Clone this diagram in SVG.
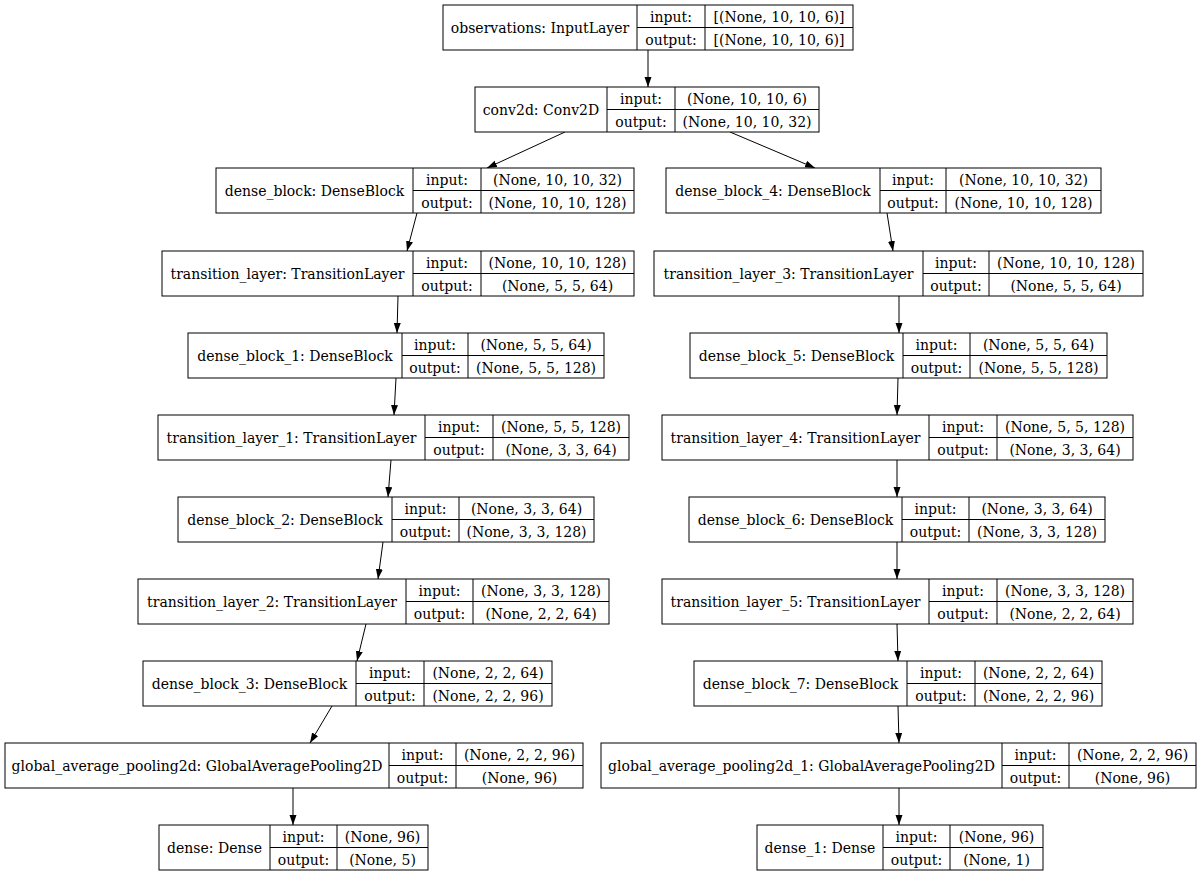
<svg xmlns="http://www.w3.org/2000/svg" width="1200" height="876" viewBox="0 0 1200 876">
<style>
.b{fill:#fff;stroke:#000;stroke-width:1}
.l{fill:none;stroke:#000;stroke-width:1}
text{font-family:'DejaVu Serif','Liberation Serif',serif;font-size:14px;fill:#000;text-anchor:middle}
.e{fill:none;stroke:#000;stroke-width:1}
</style>
<defs>
<marker id="ah" markerUnits="userSpaceOnUse" markerWidth="10" markerHeight="8" refX="10" refY="3.5" orient="auto">
<path d="M0,0 L10,3.5 L0,7 z" fill="#000"/>
</marker>
</defs>
<rect width="1200" height="876" fill="#fff"/>

<g id="connectors">
<line class="e" x1="648" y1="50" x2="648" y2="87" marker-end="url(#ah)"/>
<line class="e" x1="565" y1="132" x2="487" y2="168" marker-end="url(#ah)"/>
<line class="e" x1="730" y1="132" x2="815" y2="168" marker-end="url(#ah)"/>
<line class="e" x1="417" y1="213" x2="407" y2="251" marker-end="url(#ah)"/>
<line class="e" x1="398" y1="296" x2="397" y2="333" marker-end="url(#ah)"/>
<line class="e" x1="396" y1="378" x2="394" y2="415" marker-end="url(#ah)"/>
<line class="e" x1="391" y1="460" x2="388" y2="497" marker-end="url(#ah)"/>
<line class="e" x1="383" y1="542" x2="378" y2="579" marker-end="url(#ah)"/>
<line class="e" x1="366" y1="624" x2="357" y2="661" marker-end="url(#ah)"/>
<line class="e" x1="332" y1="706" x2="310" y2="743" marker-end="url(#ah)"/>
<line class="e" x1="293" y1="788" x2="293" y2="825" marker-end="url(#ah)"/>
<line class="e" x1="887" y1="213" x2="893" y2="251" marker-end="url(#ah)"/>
<line class="e" x1="899" y1="296" x2="899" y2="333" marker-end="url(#ah)"/>
<line class="e" x1="898" y1="378" x2="897" y2="415" marker-end="url(#ah)"/>
<line class="e" x1="897" y1="460" x2="897" y2="497" marker-end="url(#ah)"/>
<line class="e" x1="897" y1="542" x2="897" y2="579" marker-end="url(#ah)"/>
<line class="e" x1="897" y1="624" x2="898" y2="661" marker-end="url(#ah)"/>
<line class="e" x1="898" y1="706" x2="899" y2="743" marker-end="url(#ah)"/>
<line class="e" x1="899" y1="788" x2="899" y2="825" marker-end="url(#ah)"/>
</g>

<g id="observations">
<rect class="b" x="443" y="5" width="410" height="45"/>
<path class="l" d="M637,5V50M705,5V50M637,27.5H853"/>
<text x="540" y="33">observations: InputLayer</text>
<text x="671" y="21.5">input:</text><text x="671" y="44.5">output:</text>
<text x="779" y="21.5">[(None, 10, 10, 6)]</text><text x="779" y="44.5">[(None, 10, 10, 6)]</text>
</g>

<g id="conv2d">
<rect class="b" x="475" y="87" width="344" height="45"/>
<path class="l" d="M607,87V132M675,87V132M607,109.5H819"/>
<text x="541" y="115">conv2d: Conv2D</text>
<text x="641" y="103.5">input:</text><text x="641" y="126.5">output:</text>
<text x="747" y="103.5">(None, 10, 10, 6)</text><text x="747" y="126.5">(None, 10, 10, 32)</text>
</g>

<g id="dense_block">
<rect class="b" x="216" y="168" width="418" height="45"/>
<path class="l" d="M413,168V213M481,168V213M413,190.5H634"/>
<text x="314.5" y="196">dense_block: DenseBlock</text>
<text x="447" y="184.5">input:</text><text x="447" y="207.5">output:</text>
<text x="557.5" y="184.5">(None, 10, 10, 32)</text><text x="557.5" y="207.5">(None, 10, 10, 128)</text>
</g>

<g id="transition_layer">
<rect class="b" x="162" y="251" width="472" height="45"/>
<path class="l" d="M413,251V296M481,251V296M413,273.5H634"/>
<text x="287.5" y="279">transition_layer: TransitionLayer</text>
<text x="447" y="267.5">input:</text><text x="447" y="290.5">output:</text>
<text x="557.5" y="267.5">(None, 10, 10, 128)</text><text x="557.5" y="290.5">(None, 5, 5, 64)</text>
</g>

<g id="dense_block_1">
<rect class="b" x="188" y="333" width="416" height="45"/>
<path class="l" d="M402,333V378M468,333V378M402,355.5H604"/>
<text x="295" y="361">dense_block_1: DenseBlock</text>
<text x="435" y="349.5">input:</text><text x="435" y="372.5">output:</text>
<text x="536" y="349.5">(None, 5, 5, 64)</text><text x="536" y="372.5">(None, 5, 5, 128)</text>
</g>

<g id="transition_layer_1">
<rect class="b" x="158" y="415" width="471" height="45"/>
<path class="l" d="M425,415V460M493,415V460M425,437.5H629"/>
<text x="291.5" y="443">transition_layer_1: TransitionLayer</text>
<text x="459" y="431.5">input:</text><text x="459" y="454.5">output:</text>
<text x="561" y="431.5">(None, 5, 5, 128)</text><text x="561" y="454.5">(None, 3, 3, 64)</text>
</g>

<g id="dense_block_2">
<rect class="b" x="178" y="497" width="416" height="45"/>
<path class="l" d="M392,497V542M459,497V542M392,519.5H594"/>
<text x="285" y="525">dense_block_2: DenseBlock</text>
<text x="425.5" y="513.5">input:</text><text x="425.5" y="536.5">output:</text>
<text x="526.5" y="513.5">(None, 3, 3, 64)</text><text x="526.5" y="536.5">(None, 3, 3, 128)</text>
</g>

<g id="transition_layer_2">
<rect class="b" x="138" y="579" width="471" height="45"/>
<path class="l" d="M406,579V624M473,579V624M406,601.5H609"/>
<text x="272" y="607">transition_layer_2: TransitionLayer</text>
<text x="439.5" y="595.5">input:</text><text x="439.5" y="618.5">output:</text>
<text x="541" y="595.5">(None, 3, 3, 128)</text><text x="541" y="618.5">(None, 2, 2, 64)</text>
</g>

<g id="dense_block_3">
<rect class="b" x="143" y="661" width="409" height="45"/>
<path class="l" d="M356,661V706M424,661V706M356,683.5H552"/>
<text x="249.5" y="689">dense_block_3: DenseBlock</text>
<text x="390" y="677.5">input:</text><text x="390" y="700.5">output:</text>
<text x="488" y="677.5">(None, 2, 2, 64)</text><text x="488" y="700.5">(None, 2, 2, 96)</text>
</g>

<g id="global_average_pooling2d">
<rect class="b" x="5" y="743" width="578" height="45"/>
<path class="l" d="M389,743V788M456,743V788M389,765.5H583"/>
<text x="197" y="771">global_average_pooling2d: GlobalAveragePooling2D</text>
<text x="422.5" y="759.5">input:</text><text x="422.5" y="782.5">output:</text>
<text x="519.5" y="759.5">(None, 2, 2, 96)</text><text x="519.5" y="782.5">(None, 96)</text>
</g>

<g id="dense">
<rect class="b" x="159" y="825" width="269" height="45"/>
<path class="l" d="M270,825V870M337,825V870M270,847.5H428"/>
<text x="214.5" y="853">dense: Dense</text>
<text x="303.5" y="841.5">input:</text><text x="303.5" y="864.5">output:</text>
<text x="382.5" y="841.5">(None, 96)</text><text x="382.5" y="864.5">(None, 5)</text>
</g>

<g id="dense_block_4">
<rect class="b" x="666" y="168" width="435" height="45"/>
<path class="l" d="M880,168V213M946,168V213M880,190.5H1101"/>
<text x="773" y="196">dense_block_4: DenseBlock</text>
<text x="913" y="184.5">input:</text><text x="913" y="207.5">output:</text>
<text x="1023.5" y="184.5">(None, 10, 10, 32)</text><text x="1023.5" y="207.5">(None, 10, 10, 128)</text>
</g>

<g id="transition_layer_3">
<rect class="b" x="654" y="251" width="489" height="45"/>
<path class="l" d="M923,251V296M989,251V296M923,273.5H1143"/>
<text x="788.5" y="279">transition_layer_3: TransitionLayer</text>
<text x="956" y="267.5">input:</text><text x="956" y="290.5">output:</text>
<text x="1066" y="267.5">(None, 10, 10, 128)</text><text x="1066" y="290.5">(None, 5, 5, 64)</text>
</g>

<g id="dense_block_5">
<rect class="b" x="690" y="333" width="417" height="45"/>
<path class="l" d="M903,333V378M970,333V378M903,355.5H1107"/>
<text x="796.5" y="361">dense_block_5: DenseBlock</text>
<text x="936.5" y="349.5">input:</text><text x="936.5" y="372.5">output:</text>
<text x="1038.5" y="349.5">(None, 5, 5, 64)</text><text x="1038.5" y="372.5">(None, 5, 5, 128)</text>
</g>

<g id="transition_layer_4">
<rect class="b" x="662" y="415" width="471" height="45"/>
<path class="l" d="M929,415V460M997,415V460M929,437.5H1133"/>
<text x="795.5" y="443">transition_layer_4: TransitionLayer</text>
<text x="963" y="431.5">input:</text><text x="963" y="454.5">output:</text>
<text x="1065" y="431.5">(None, 5, 5, 128)</text><text x="1065" y="454.5">(None, 3, 3, 64)</text>
</g>

<g id="dense_block_6">
<rect class="b" x="689" y="497" width="416" height="45"/>
<path class="l" d="M902,497V542M969,497V542M902,519.5H1105"/>
<text x="795.5" y="525">dense_block_6: DenseBlock</text>
<text x="935.5" y="513.5">input:</text><text x="935.5" y="536.5">output:</text>
<text x="1037" y="513.5">(None, 3, 3, 64)</text><text x="1037" y="536.5">(None, 3, 3, 128)</text>
</g>

<g id="transition_layer_5">
<rect class="b" x="662" y="579" width="471" height="45"/>
<path class="l" d="M929,579V624M997,579V624M929,601.5H1133"/>
<text x="795.5" y="607">transition_layer_5: TransitionLayer</text>
<text x="963" y="595.5">input:</text><text x="963" y="618.5">output:</text>
<text x="1065" y="595.5">(None, 3, 3, 128)</text><text x="1065" y="618.5">(None, 2, 2, 64)</text>
</g>

<g id="dense_block_7">
<rect class="b" x="694" y="661" width="408" height="45"/>
<path class="l" d="M907,661V706M975,661V706M907,683.5H1102"/>
<text x="800.5" y="689">dense_block_7: DenseBlock</text>
<text x="941" y="677.5">input:</text><text x="941" y="700.5">output:</text>
<text x="1038.5" y="677.5">(None, 2, 2, 64)</text><text x="1038.5" y="700.5">(None, 2, 2, 96)</text>
</g>

<g id="global_average_pooling2d_1">
<rect class="b" x="601" y="743" width="595" height="45"/>
<path class="l" d="M1002,743V788M1069,743V788M1002,765.5H1196"/>
<text x="801.5" y="771">global_average_pooling2d_1: GlobalAveragePooling2D</text>
<text x="1035.5" y="759.5">input:</text><text x="1035.5" y="782.5">output:</text>
<text x="1132.5" y="759.5">(None, 2, 2, 96)</text><text x="1132.5" y="782.5">(None, 96)</text>
</g>

<g id="dense_1">
<rect class="b" x="757" y="825" width="286" height="45"/>
<path class="l" d="M883,825V870M950,825V870M883,847.5H1043"/>
<text x="820" y="853">dense_1: Dense</text>
<text x="916.5" y="841.5">input:</text><text x="916.5" y="864.5">output:</text>
<text x="996.5" y="841.5">(None, 96)</text><text x="996.5" y="864.5">(None, 1)</text>
</g>
</svg>
